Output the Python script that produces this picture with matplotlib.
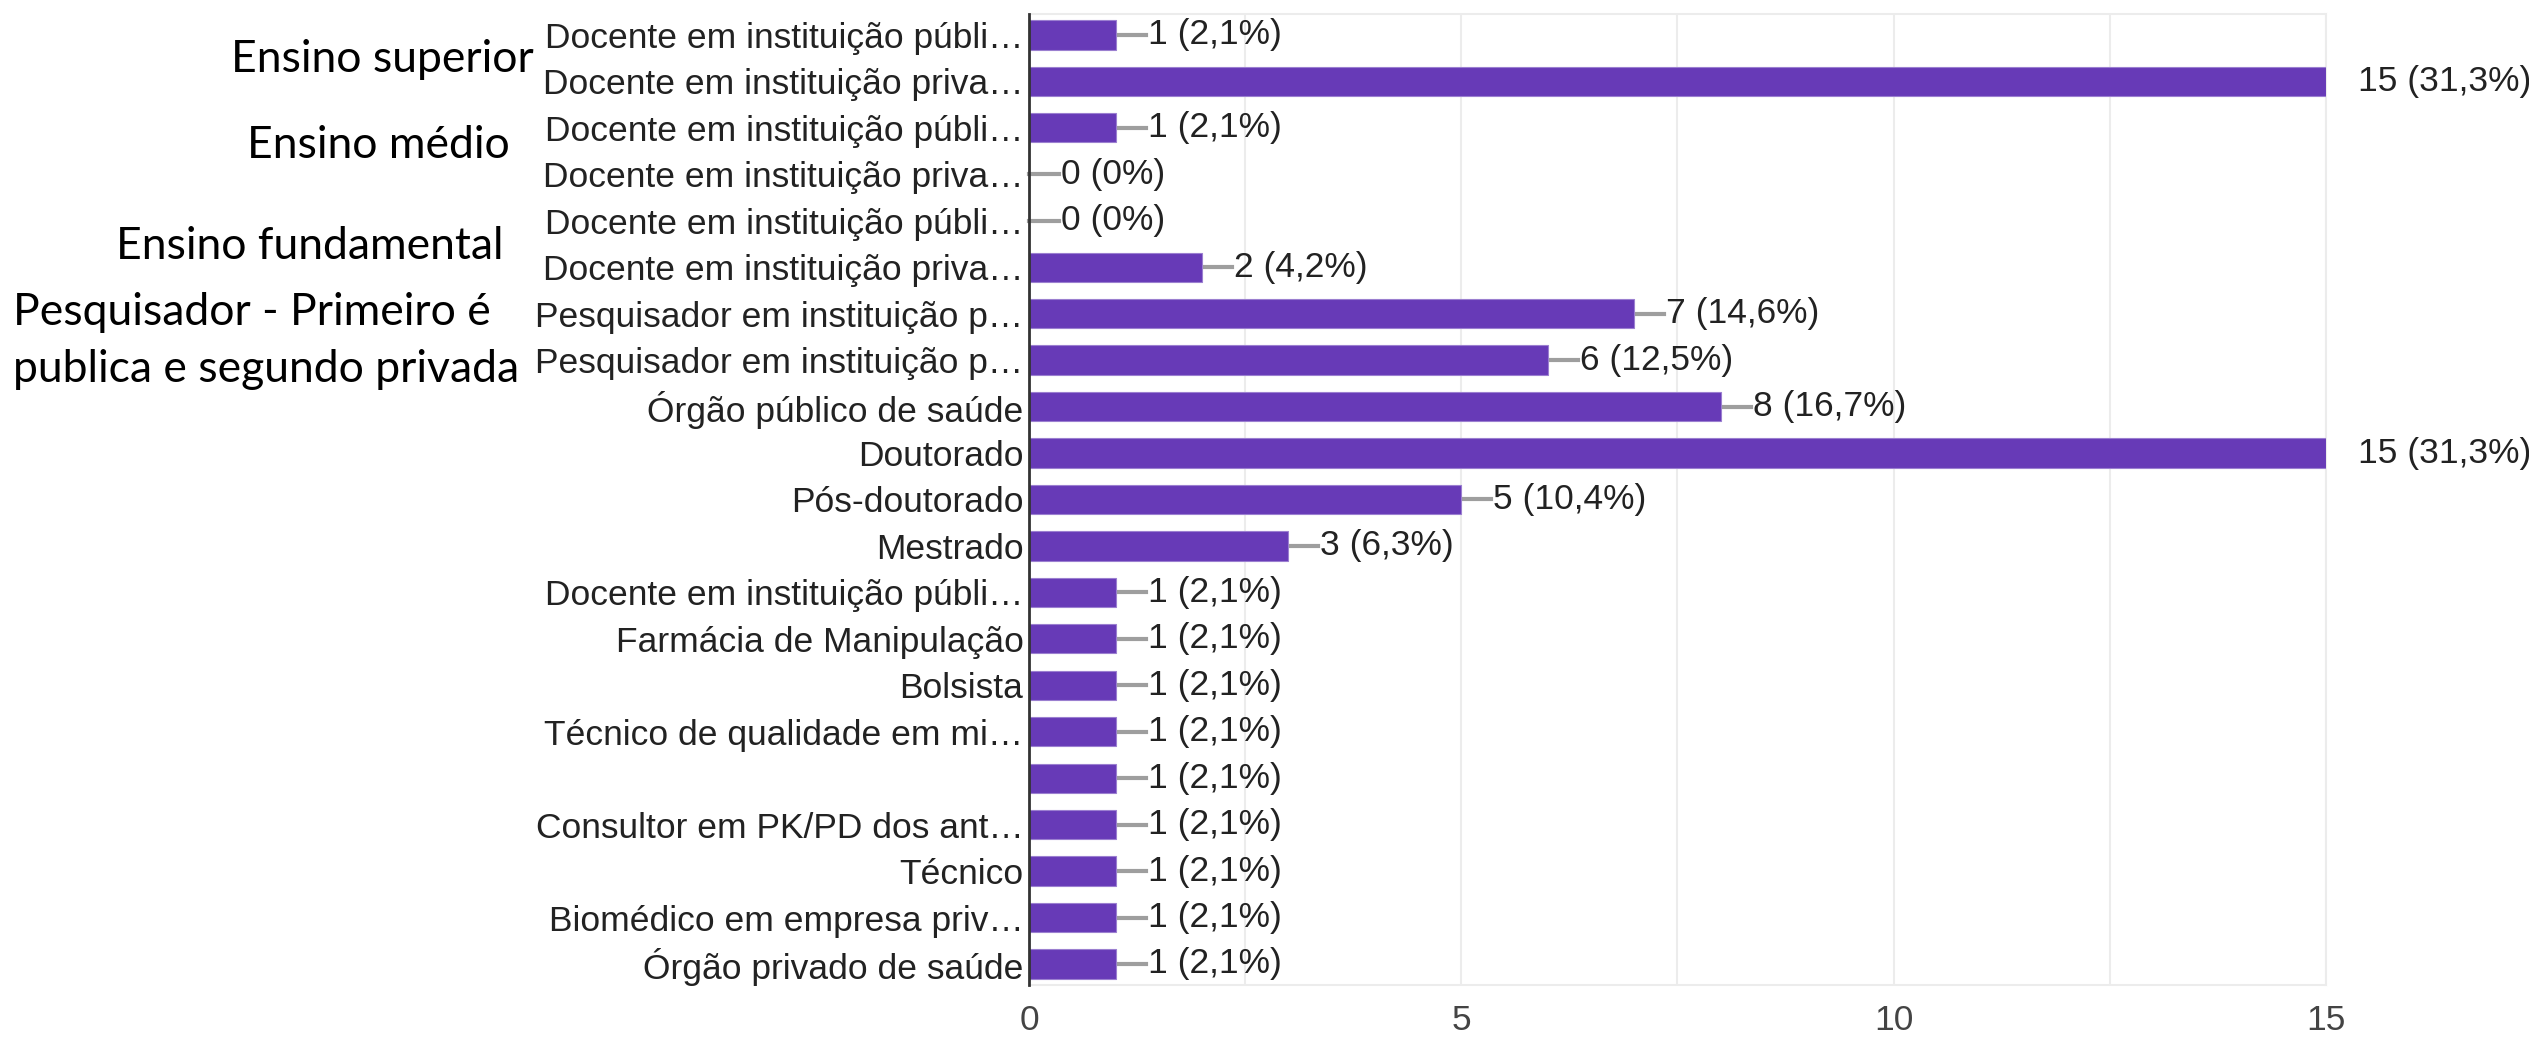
import matplotlib
matplotlib.use("Agg")
import matplotlib.pyplot as plt
import matplotlib.transforms as mtransforms

# categories, top to bottom as they appear in the chart
categories = [
    "Docente em instituição públi…",
    "Docente em instituição priva…",
    "Docente em instituição públi…",
    "Docente em instituição priva…",
    "Docente em instituição públi…",
    "Docente em instituição priva…",
    "Pesquisador em instituição p…",
    "Pesquisador em instituição p…",
    "Órgão público de saúde",
    "Doutorado",
    "Pós-doutorado",
    "Mestrado",
    "Docente em instituição públi…",
    "Farmácia de Manipulação",
    "Bolsista",
    "Técnico de qualidade em mi…",
    "",
    "Consultor em PK/PD dos ant…",
    "Técnico",
    "Biomédico em empresa priv…",
    "Órgão privado de saúde",
]
counts = [1, 15, 1, 0, 0, 2, 7, 6, 8, 15, 5, 3, 1, 1, 1, 1, 1, 1, 1, 1, 1]
percents = ["2,1", "31,3", "2,1", "0", "0", "4,2", "14,6", "12,5", "16,7", "31,3",
            "10,4", "6,3", "2,1", "2,1", "2,1", "2,1", "2,1", "2,1", "2,1", "2,1", "2,1"]
xticks = [0, 5, 10, 15]

# side notes added over the screenshot: (text, row position)
notes = [
    ("Ensino superior", 0.52),
    ("Ensino médio", 2.38),
    ("Ensino fundamental", 4.55),
    ("Pesquisador - Primeiro é", 5.97),
    ("publica e segundo privada", 7.2),
]
note_x = [0.0913, 0.0976, 0.0459, 0.0051, 0.0051]

BAR = "#673ab7"
LABEL_FONT = "Liberation Sans"

fig = plt.figure(figsize=(25.29, 10.40), dpi=100)
ax = fig.add_axes([0.4069, 0.053, 0.9197 - 0.4069, 0.9335])

ypos = list(range(len(categories)))
ax.barh(ypos, counts, height=0.63, color=BAR, edgecolor="#9b7fd0", linewidth=0.8, zorder=3)

ax.set_xlim(0, 15)
ax.set_ylim(len(categories) - 0.55, -0.45)

# grid every 2.5, labels every 5
for g in [2.5, 5, 7.5, 10, 12.5, 15]:
    ax.axvline(g, color="#ececec", lw=1.5, zorder=1)
ax.set_xticks(xticks)
ax.set_xticklabels([str(t) for t in xticks], fontsize=25.5, color="#444444",
                   family=LABEL_FONT)
ax.tick_params(axis="x", length=0, pad=14)

ax.set_yticks(ypos)
ax.set_yticklabels(categories, fontsize=25.5, color="#222222", family=LABEL_FONT)
ax.tick_params(axis="y", length=0, pad=4)

for side in ["top", "bottom", "right"]:
    ax.spines[side].set_color("#ececec")
    ax.spines[side].set_linewidth(1.5)
ax.spines["left"].set_color("#333333")
ax.spines["left"].set_linewidth(2)
ax.spines["left"].set_zorder(4)

# value annotations with a short grey stem
stem_end = mtransforms.offset_copy(ax.transData, fig=fig, x=30, y=0, units="dots")
text_tr = mtransforms.offset_copy(ax.transData, fig=fig, x=32, y=0, units="dots")
for y, v, p in zip(ypos, counts, percents):
    x0 = ax.transData.transform((v, y))
    x1 = stem_end.transform((v, y))
    line = plt.Line2D([x0[0], x1[0]], [x0[1], x1[1]], transform=None,
                      color="#9e9e9e", lw=3, zorder=2)
    if v >= 15:
        line.set_clip_box(ax.bbox)
        line.set_clip_on(True)
    else:
        line.set_clip_on(False)
    ax.add_artist(line)
    ax.text(v, y, f"{v} ({p}%)", transform=text_tr, fontsize=25.5,
            color="#222222", family=LABEL_FONT, va="center", ha="left",
            clip_on=False)

note_tr = mtransforms.blended_transform_factory(fig.transFigure, ax.transData)
for (txt, yy), xx in zip(notes, note_x):
    fig.text(xx, yy, txt, transform=note_tr, fontsize=32, family="Lato",
             color="black", va="center", ha="left")

fig.savefig("out.png", dpi=100, facecolor="white")
